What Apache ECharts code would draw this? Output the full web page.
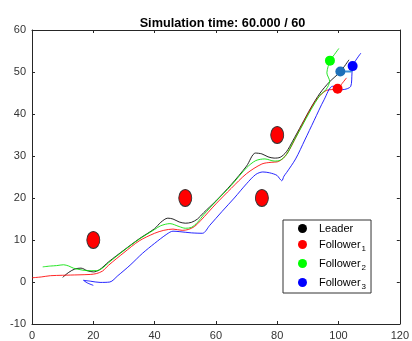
<!DOCTYPE html>
<html><head><meta charset="utf-8">
<script src="https://cdn.jsdelivr.net/npm/echarts@6/dist/echarts.min.js"></script>
<style>html,body{margin:0;padding:0;background:#fff}#c{width:412px;height:341px}</style>
</head><body><div id="c"></div>
<script>
const xTicks = [0, 20, 40, 60, 80, 100, 120];
const yTicks = [-10, 0, 10, 20, 30, 40, 50, 60];
const legendNames = ['Leader', 'Follower1', 'Follower2', 'Follower3'];
const obstacles = [[20, 10], [50, 20], [75, 20], [80, 35]];
const leaderPath = [[10,1.1],[12,2.3],[14,3.1],[16,3.3],[18,2.7],[20,2.4],[22,2.9],[25,4.8],[30,7.6],[35,10.3],[40,12.7],[42,14.2],[44.3,15.2],[46,15],[48,14.3],[50,14],[52,14.2],[54,15],[56,16.5],[60,19.3],[65,23.2],[70,27.6],[72.9,30.7],[75,30.5],[77,29.8],[79,29.5],[81,29.7],[83,31],[85,33.5],[88,37.5],[91,41.5],[94,45],[97,47.6],[100.6,50.1],[103.4,52.9]];
const follower1Path = [[0,1],[3,1.2],[6,1.5],[10,1.6],[15,1.7],[19,1.8],[21,2],[23,2.6],[25,4],[30,7],[35,9.8],[40,11.6],[43,12.3],[46,12.6],[49,12.3],[51,12.5],[53,13.2],[55,14.6],[60,18.6],[65,22.3],[70,25.8],[75,28.1],[78,28.5],[80,28.6],[82,29.5],[84,31.5],[87,35.8],[90,40],[93,43.6],[96,45.6],[99.7,46],[101.2,47.3],[102.6,48.6]];
const follower2Path = [[3.5,3.6],[6,3.8],[8,3.9],[10.3,4.1],[12,3.8],[13.5,3.3],[16,2.9],[18,2.7],[21,2.7],[23,3.3],[25,4.6],[30,7.5],[35,10.2],[40,12.5],[42,13.4],[45,13.9],[48,13.2],[50,12.8],[52,13],[54,14.2],[56,16],[60,19.2],[65,23],[70,27.2],[73,28.9],[76,29.3],[79,28.8],[81,29],[83,30.3],[85,33],[88,37],[91,41],[94,44.5],[95.9,45.8],[97.1,47.8],[96.2,49.8],[96.6,51.3],[97.2,52.7],[98.7,54.2],[100.1,55.6]];
const follower3Path = [[20,-0.8],[18,-0.2],[16.8,0.4],[19,0.2],[22.2,-0.1],[25.4,0],[28,1.5],[32,4],[36,6.8],[40,9.2],[44,11.4],[46,12.1],[48,12],[52,11.7],[55.6,11.6],[58,13.5],[62,16.8],[66,20],[70,23.4],[73,25.6],[75.3,26.2],[77.5,26],[79.9,25.4],[80.8,24.6],[81.5,24.1],[82.2,25.2],[83.1,26.1],[86,29.3],[89,33.8],[92,38.4],[95.3,43.4],[98.1,46.6],[101.3,45.8],[104,46.6],[104.4,49.8],[104.6,51.4],[107.3,54.5]];
const linkPath = [[100.6,50.1],[104.2,50.1],[104.6,51.4]];
const leaderPos = [[100.6, 50.1]];
const follower1Pos = [[99.7, 46]];
const follower2Pos = [[97.2, 52.7]];
const follower3Pos = [[104.6, 51.4]];

const chart = echarts.init(document.getElementById('c'));
const axisCol = '#262626';
const font = 'Liberation Sans, Arial, sans-serif';
function lineS(name, data, color, w) {
  return {type: 'line', name: name, data: data, showSymbol: false, smooth: 0.3, silent: true,
    lineStyle: {color: color, width: w || 1, opacity: 0.85}, itemStyle: {color: color}, z: 2};
}
function dotS(name, data, color) {
  return {type: 'scatter', name: name, data: data, symbol: 'circle', symbolSize: 10,
    itemStyle: {color: color, opacity: 1}, z: 5, silent: true};
}
function axisBase(extra) {
  return Object.assign({
    axisLine: {show: true, onZero: false, lineStyle: {color: axisCol}},
    axisTick: {show: true, inside: true, length: 3, lineStyle: {color: axisCol}},
    splitLine: {show: false}
  }, extra);
}
chart.setOption({
  animation: false,
  title: {text: 'Simulation time: 60.000 / 60', left: 217.5, top: 12, textAlign: 'center',
    textStyle: {fontSize: 12.7, fontWeight: 'bold', color: '#000', fontFamily: font}},
  grid: {left: 32, right: 9, top: 30, bottom: 16, containLabel: false},
  xAxis: [
    axisBase({type: 'value', min: 0, max: 120, interval: 20, position: 'bottom',
     axisLabel: {color: '#333', fontSize: 11, margin: 6, fontFamily: font, formatter: v => xTicks.includes(v) ? String(v) : ''}}),
    axisBase({type: 'value', min: 0, max: 120, interval: 20, position: 'top', axisLabel: {show: false}})
  ],
  yAxis: [
    axisBase({type: 'value', min: -10, max: 60, interval: 10, position: 'left',
     axisLabel: {color: '#333', fontSize: 11, margin: 6, fontFamily: font, formatter: v => yTicks.includes(v) ? String(v) : ''}}),
    axisBase({type: 'value', min: -10, max: 60, interval: 10, position: 'right', axisLabel: {show: false}})
  ],
  legend: {
    orient: 'vertical', left: 283, top: 220,
    backgroundColor: '#fff', borderColor: '#333', borderWidth: 1, borderRadius: 0,
    padding: [3, 5, 2, 15], itemGap: 5, itemWidth: 9, itemHeight: 9, icon: 'circle',
    selectedMode: false,
    data: [
      {name: legendNames[0], itemStyle: {color: '#000', opacity: 1}},
      {name: legendNames[1], itemStyle: {color: '#ff0000', opacity: 1}},
      {name: legendNames[2], itemStyle: {color: '#00ff00', opacity: 1}},
      {name: legendNames[3], itemStyle: {color: '#0000ff', opacity: 1}}
    ],
    formatter: function (n) {
      const m = n.match(/^(Follower)(\d)$/);
      return m ? '{n|' + m[1] + '}{s|' + m[2] + '}' : '{n|' + n + '}';
    },
    textStyle: {
      padding: [0, 0, 0, 7],
      rich: {
        n: {fontSize: 11, color: '#000', fontFamily: font, height: 14},
        s: {fontSize: 8, color: '#000', fontFamily: font, padding: [9, 0, 0, 1], height: 14}
      }
    }
  },
  series: [
    lineS('leaderPathS', leaderPath, '#000000'),
    lineS('follower1PathS', follower1Path, '#ff0000'),
    lineS('follower2PathS', follower2Path, '#00e000'),
    lineS('follower3PathS', follower3Path, '#0000ff'),
    {type: 'line', name: 'link', data: linkPath, showSymbol: false, silent: true,
     lineStyle: {color: '#3d8fd8', width: 2}, z: 3},
    {type: 'scatter', name: 'obstacles', data: obstacles, symbol: 'circle', symbolSize: [13, 17],
     itemStyle: {color: '#ff0000', borderColor: '#333', borderWidth: 1, opacity: 1}, z: 4, silent: true},
    dotS('Leader', leaderPos, '#1f6fb8'),
    dotS('Follower1', follower1Pos, '#ff0000'),
    dotS('Follower2', follower2Pos, '#00ff00'),
    dotS('Follower3', follower3Pos, '#0000ff')
  ]
});
</script></body></html>
